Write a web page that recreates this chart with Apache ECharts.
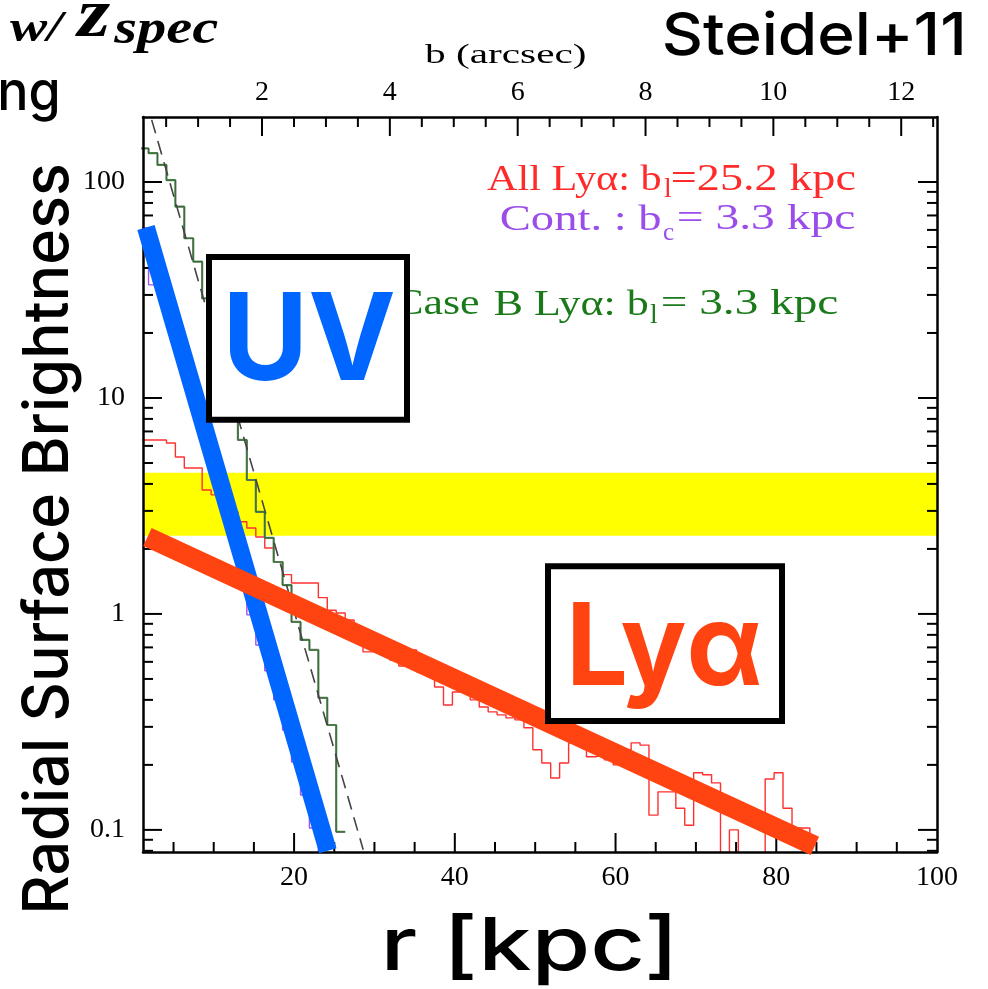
<!DOCTYPE html>
<html><head><meta charset="utf-8">
<script src="https://cdn.jsdelivr.net/npm/echarts@6/dist/echarts.min.js"></script>
<style>html,body{margin:0;padding:0;background:#fff}#c{width:988px;height:989px}</style>
</head><body><div id="c"></div>
<script>
// ---------------- data ----------------
const binEdges = [0.78,1.89,3.00,4.12,5.23,6.34,7.45,8.56,9.68,10.79,11.90,13.01,14.12,15.24,16.35,17.46,18.57,19.68,20.80,21.91,23.02,24.13,25.24,26.36,27.47,28.58,29.69,30.80,31.92,33.03,34.14,35.25,36.36,37.48,38.59,39.70,40.81,41.92,43.04,44.15,45.26,46.37,47.48,48.60,49.71,50.82,51.93,53.04,54.16,55.27,56.38,57.49,58.60,59.72,60.83,61.94,63.05,64.16,65.28,66.39,67.50,68.61,69.72,70.84,71.95,73.06,74.17,75.28,76.40,77.51,78.62,79.73,80.84,81.96,83.07,84.18];
const allLyaSB = [6.39,6.39,6.39,6.19,5.33,4.74,4.74,3.75,3.56,3.20,2.97,2.67,2.50,2.27,2.02,1.74,1.52,1.39,1.39,1.39,1.19,1.04,1.01,0.938,0.843,0.667,0.681,0.646,0.612,0.574,0.681,0.539,0.539,0.459,0.379,0.435,0.435,0.400,0.371,0.352,0.341,0.330,0.323,0.297,0.235,0.204,0.174,0.204,0.253,0.247,0.218,0.222,0.211,0.200,0.235,0.253,0.247,0.117,0.150,0.150,0.126,0.105,0.184,0.180,0.165,0.01,0.100,0.01,0.01,0.01,0.172,0.184,0.126,0.102,0.102,0.01];
const caseBLyaSB = [143,136,120,102,76.9,54.9,42.8,28.9,20.6,13.5,9.79,6.39,4.17,2.97,2.25,1.74,1.36,0.918,0.758,0.681,0.409,0.306,0.098,0.098];
const contSB = [61.2,33.4,30.7,22.2,15.9,11.5,8.33,5.99,4.33,3.12,2.25,1.63,0.99,0.718,0.545,0.400,0.290,0.206,0.145,0.102,0.01];
const expModelR = [2.28, 28.6];
const expModelSB = [194, 0.081];
const uvFitR = [1.57, 24.2];
const uvFitSB = [61.6, 0.080];
const lyaFitR = [1.75, 84.8];
const lyaFitSB = [2.27, 0.0843];
const yellowBandSB = [2.3, 4.5];

const rLabels = [20,40,60,80,100];
const rMajorTicks = [20,40,60,80];
const rMinorTicks = [5,10,15,25,30,35,45,50,55,65,70,75,85,90,95];
const bLabels = [2,4,6,8,10,12];
const bMajorTicks = [2,4,6,8,10,12];
const bMinorTicks = [0.5,1,1.5,2.5,3,3.5,4.5,5,5.5,6.5,7,7.5,8.5,9,9.5,10.5,11,11.5,12.5];
const sbLabels = [0.1,1,10,100];
const sbMajorTicks = [0.1,1,10,100];
const sbMinorTicks = [0.08,0.09,0.2,0.3,0.4,0.5,0.6,0.7,0.8,0.9,2,3,4,5,6,7,8,9,20,30,40,50,60,70,80,90];

// ---------------- config ----------------
const X_MIN = 1.2, X_MAX = 100, B_MIN = 0.138, B_MAX = 12.56, Y_MIN = 0.079, Y_MAX = 200;
const FRAME_W = 2.5, TICK_W = 2, MAJ_LEN = 19, MIN_LEN = 10;
const LABEL_FONT = 'Liberation Serif';

const mctx = document.createElement('canvas').getContext('2d');
function ink(text, font){ mctx.font = font; mctx.textBaseline = 'middle'; mctx.textAlign = 'left';
  const m = mctx.measureText(text);
  return {l: m.actualBoundingBoxLeft, r: m.actualBoundingBoxRight, a: m.actualBoundingBoxAscent, d: m.actualBoundingBoxDescent}; }
function fontStr(pre, size, fam){ return (pre + ' ' + size.toFixed(2) + 'px ' + fam).trim(); }
function fitFont(text, pre, fam, h){ const m = ink(text, fontStr(pre,100,fam)); return 100*h/(m.a+m.d); }
function textEl(text, font, fill, s, inkX, inkTop, anchor, z){
  const m = ink(text, font);
  const x = anchor === 'right' ? inkX - s*m.r : inkX + s*m.l;
  return {type:'text', x: x, y: inkTop + m.a, scaleX: s, z: z, silent: true,
    style:{text: text, font: font, fill: fill, align:'left', verticalAlign:'middle', textAlign:'left', textVerticalAlign:'middle'}};
}
function fitBox(text, pre, fam, box, fill, z, keepAspect){
  const size = fitFont(text, pre, fam, box[3]-box[1]);
  const font = fontStr(pre, size, fam);
  const m = ink(text, font);
  const s = keepAspect ? 1 : (box[2]-box[0])/(m.l+m.r);
  return {el: textEl(text, font, fill, s, box[0], box[1], 'left', z), font: font, s: s};
}

const RED = '#FF2A2A', PURPLE = '#9A4DEA', GREEN = '#1A7A1A';
const els = [];
// legend texts inside plot
const LF = '"Liberation Serif"';
els.push(fitBox('All Lyα: b', '', LF, [487,164,660,197], RED, 20).el);
els.push(fitBox('l', '', LF, [664,178,668,197], RED, 20, true).el);
els.push(fitBox('=25.2 kpc', '', LF, [672,163,855,197], RED, 20).el);
els.push(fitBox('Cont. : b', '', LF, [501,204,660,230], PURPLE, 20).el);
els.push(fitBox('c', '', LF, [663,228,673,240], PURPLE, 20, true).el);
els.push(fitBox('= 3.3 kpc', '', LF, [678,204,855,237], PURPLE, 20).el);
const gB = fitBox('B Lyα: b', '', LF, [495,289,647,322], GREEN, 20);
els.push(gB.el);
els.push(textEl('Case', gB.font, GREEN, gB.s, 478, 290, 'right', 20));
els.push(fitBox('l', '', LF, [650,304,654,323], GREEN, 20, true).el);
els.push(fitBox('= 3.3 kpc', '', LF, [662,289,838,322], GREEN, 20).el);
els.push(fitBox('b (arcsec)', '', LF, [425,43,585,68], '#000', 20).el);

// slide texts
els.push(fitBox('Steidel+11', '500', 'Inter', [665,10,962,55], '#000', 100).el);
els.push(fitBox('ng', '500', 'Inter', [0,80,57,122], '#000', 100).el);
els.push(fitBox('w/', 'italic bold', LF, [10,12,67,42], '#000', 100).el);
els.push(fitBox('z', 'italic bold', LF, [75,3,110,35], '#000', 100).el);
els.push(fitBox('spec', 'italic bold', LF, [113,20,218,53], '#000', 100).el);
els.push(fitBox('r [kpc]', '500', 'Inter', [387,913,670,985], '#000', 100).el);

// boxes
els.push({type:'rect', z:100, silent:true, shape:{x:209, y:257, width:198, height:162.7}, style:{fill:'#fff', stroke:'#000', lineWidth:6}});
els.push({type:'rect', z:100, silent:true, shape:{x:548, y:566.3, width:234, height:154.7}, style:{fill:'#fff', stroke:'#000', lineWidth:6}});
els.push(fitBox('UV', '700', 'Inter', [230,291.7,393,381.7], '#0066FF', 101).el);
els.push(fitBox('Lyα', '700', 'Inter', [572.7,601.7,760,708.3], '#FF4411', 101).el);

// rotated y title
(function(){
  const txt = 'Radial Surface Brightness';
  const size = fitFont('R', '500', 'Inter', 46);
  const font = fontStr('500', size, 'Inter');
  const m = ink(txt, font), mR = ink('R', font);
  const s = (910-165)/(m.l+m.r);
  els.push({type:'text', x: 22 + mR.a, y: 910 - s*m.l, rotation: Math.PI/2, scaleX: s, z:100, silent:true,
    style:{text: txt, font: font, fill:'#000', align:'left', verticalAlign:'middle', textAlign:'left', textVerticalAlign:'middle'}});
})();

function stepData(vals){ return vals.map((v,i) => [binEdges[i], v]); }
function zip(a,b){ return a.map((v,i)=>[v,b[i]]); }
function histSeries(name, vals, color, width, z){
  return {name, type:'line', step:'end', data: stepData(vals), symbol:'none', clip:true, z:z,
    lineStyle:{color, width}, silent:true};
}
function lineStyleTick(){ return {stroke:'#000', lineWidth:TICK_W}; }
function yTickSeries(vals, len){
  return {type:'custom', xAxisIndex:0, yAxisIndex:0, z:52, silent:true,
    data: vals.map(v => [X_MIN, v]),
    renderItem(params, api){
      const cs = params.coordSys;
      const y = api.coord([api.value(0), api.value(1)])[1];
      return {type:'group', children:[
        {type:'line', shape:{x1:cs.x, y1:y, x2:cs.x+len, y2:y}, style:lineStyleTick()},
        {type:'line', shape:{x1:cs.x+cs.width-len, y1:y, x2:cs.x+cs.width, y2:y}, style:lineStyleTick()}]};
    }};
}
function xTickSeries(vals, len, axisIdx, top){
  return {type:'custom', xAxisIndex:axisIdx, yAxisIndex:0, z:52, silent:true,
    data: vals.map(v => [v, Y_MIN]),
    renderItem(params, api){
      const cs = params.coordSys;
      const x = api.coord([api.value(0), api.value(1)])[0];
      const y0 = top ? cs.y : cs.y + cs.height;
      const y1 = top ? cs.y + len : cs.y + cs.height - len;
      return {type:'line', shape:{x1:x, y1:y0, x2:x, y2:y1}, style:lineStyleTick()};
    }};
}
function fmtSB(v){ for (const l of sbLabels) { if (Math.abs(Math.log10(v) - Math.log10(l)) < 1e-6) return String(l); } return ''; }
const axisLine = {show:true, onZero:false, lineStyle:{color:'#000', width:FRAME_W}};
const lblBase = {color:'#000', fontFamily: LABEL_FONT, fontSize: 28};

const option = {
  animation: false,
  backgroundColor: '#fff',
  grid: {left:143, right:51, top:117, bottom:137, containLabel:false},
  xAxis: [
    {type:'value', min:X_MIN, max:X_MAX, position:'bottom', z:50, axisLine, axisTick:{show:false}, splitLine:{show:false},
     axisLabel: Object.assign({customValues: rLabels, margin: 12, formatter: v => rLabels.indexOf(v) >= 0 ? String(v) : ''}, lblBase)},
    {type:'value', min:B_MIN, max:B_MAX, position:'top', z:50, axisLine, axisTick:{show:false}, splitLine:{show:false},
     axisLabel: Object.assign({customValues: bLabels, margin: 10, formatter: v => bLabels.indexOf(v) >= 0 ? String(v) : ''}, lblBase)}
  ],
  yAxis: [
    {type:'log', logBase:10, min:Y_MIN, max:Y_MAX, position:'left', z:50, axisLine, axisTick:{show:false}, splitLine:{show:false}, minorTick:{show:false},
     axisLabel: Object.assign({margin: 18, formatter: fmtSB}, lblBase)},
    {type:'log', logBase:10, min:Y_MIN, max:Y_MAX, position:'right', z:50, axisLine, axisTick:{show:false}, splitLine:{show:false}, axisLabel:{show:false}}
  ],
  series: [
    {type:'custom', xAxisIndex:0, yAxisIndex:0, z:1, silent:true, data:[yellowBandSB],
     renderItem(params, api){
       const cs = params.coordSys;
       const yLo = api.coord([X_MIN, api.value(0)])[1];
       const yHi = api.coord([X_MIN, api.value(1)])[1];
       return {type:'rect', shape:{x:cs.x, y:yHi, width:cs.width, height:yLo-yHi}, style:{fill:'#FFFF00'}};
     }},
    histSeries('All Lyα', allLyaSB, '#FF3030', 1.4, 3),
    histSeries('Cont.', contSB, '#A050F0', 1.4, 3),
    histSeries('Case B grey', caseBLyaSB, '#7A7A7A', 2.2, 4),
    histSeries('Case B Lyα', caseBLyaSB, '#237A23', 1.1, 5),
    {name:'exp model', type:'line', data: zip(expModelR, expModelSB), symbol:'none', clip:true, z:6, silent:true,
     lineStyle:{color:'#444', width:1.6, type:[14,8]}},
    yTickSeries(sbMinorTicks, MIN_LEN), yTickSeries(sbMajorTicks, MAJ_LEN),
    xTickSeries(rMinorTicks, MIN_LEN, 0, false), xTickSeries(rMajorTicks, MAJ_LEN, 0, false),
    xTickSeries(bMinorTicks, MIN_LEN, 1, true), xTickSeries(bMajorTicks, MAJ_LEN, 1, true),
    {name:'UV fit', type:'line', data: zip(uvFitR, uvFitSB), symbol:'none', clip:false, z:55, silent:true,
     lineStyle:{color:'#0066FF', width:18, cap:'butt'}},
    {name:'Lya fit', type:'line', data: zip(lyaFitR, lyaFitSB), symbol:'none', clip:false, z:56, silent:true,
     lineStyle:{color:'#FF4411', width:20, cap:'butt'}}
  ],
  graphic: {elements: els}
};
const chart = echarts.init(document.getElementById('c'), null, {renderer:'canvas'});
chart.setOption(option);
</script>
</body></html>
